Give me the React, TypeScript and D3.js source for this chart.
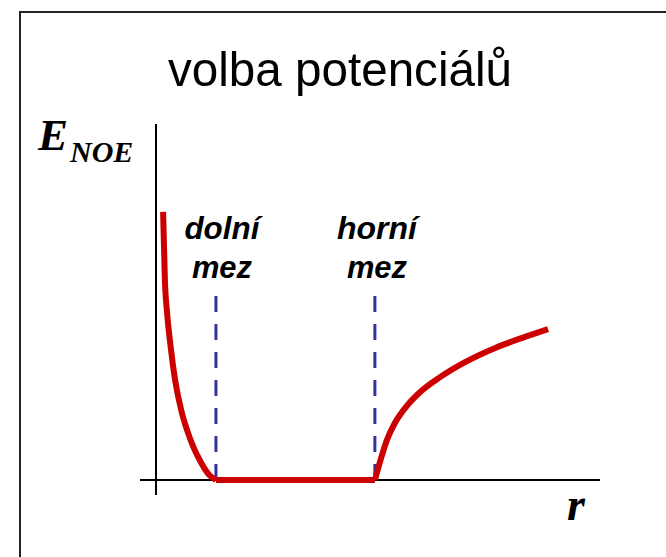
import React from "react";
import * as d3 from "d3";

const W = 666;
const H = 557;

// Potential: r (distance) vs E_NOE (energy), arbitrary units
const leftWall: [number, number][] = [
  [0.16, 7.53], [0.2, 5.62], [0.25, 4.69], [0.33, 3.74], [0.43, 2.81],
  [0.58, 1.9], [0.7, 1.4], [0.84, 0.93], [1.02, 0.48], [1.2, 0.14], [1.35, 0],
];
const flatWell: [number, number][] = [[1.35, 0], [4.93, 0]];
const rightWall: [number, number][] = [
  [4.93, 0], [5.05, 0.53], [5.2, 1.12], [5.38, 1.6], [5.61, 2.02], [5.95, 2.47],
  [6.4, 2.89], [6.96, 3.31], [7.64, 3.71], [8.31, 4.02], [8.83, 4.24],
];
const bounds = [1.35, 4.93];
const boundLabels = [["dolní", "mez"], ["horní", "mez"]];
const title = "volba potenciálů";

export default function App() {
  const x = d3.scaleLinear().domain([0, 10]).range([156, 600]);
  const y = d3.scaleLinear().domain([0, 10]).range([480, 124]);
  const curveL = d3.line<[number, number]>().x(d => x(d[0])).y(d => y(d[1])).curve(d3.curveMonotoneX);
  const curveR = d3.line<[number, number]>().x(d => x(d[0])).y(d => y(d[1])).curve(d3.curveMonotoneX);
  const lin = d3.line<[number, number]>().x(d => x(d[0])).y(d => y(d[1]));
  const sans = "'Liberation Sans', Arial, Helvetica, sans-serif";
  const serif = "'Liberation Serif', 'Times New Roman', serif";
  return (
    <svg width={W} height={H} style={{ position: "absolute", left: 0, top: 0, background: "#fff" }}>
      <rect x={0} y={0} width={W} height={H} fill="#fff" />
      <path d={`M20,${H} V12 H${W}`} fill="none" stroke="#222" strokeWidth={2} />
      <text x={340} y={86} textAnchor="middle" fontFamily={sans} fontSize={49} fill="#000"
        textLength={344} lengthAdjust="spacingAndGlyphs">{title}</text>
      {/* axes */}
      <line x1={x(0)} x2={x(0)} y1={y(10)} y2={495} stroke="#000" strokeWidth={2} />
      <line x1={140} x2={x(10)} y1={y(0)} y2={y(0)} stroke="#000" strokeWidth={2} />
      <text x={38} y={150} fontFamily={serif} fontWeight="bold" fontStyle="italic" fontSize={45} fill="#000">E</text>
      <text x={70} y={162} fontFamily={serif} fontWeight="bold" fontStyle="italic" fontSize={30} fill="#000">NOE</text>
      <text x={567} y={520} fontFamily={serif} fontWeight="bold" fontStyle="italic" fontSize={46} fill="#000">r</text>
      {/* bounds */}
      {bounds.map((b, i) => (
        <g key={i}>
          <line x1={x(b)} x2={x(b)} y1={296} y2={y(0)} stroke="#333399" strokeWidth={3} strokeDasharray="16,12" />
          <text x={x(b) + (i === 0 ? 6 : 2)} y={239} textAnchor="middle" fontFamily={sans} fontWeight="bold" fontStyle="italic" fontSize={31} fill="#000"
            textLength={i === 0 ? 75 : 80} lengthAdjust="spacingAndGlyphs">{boundLabels[i][0]}</text>
          <text x={x(b) + (i === 0 ? 6 : 2)} y={278} textAnchor="middle" fontFamily={sans} fontWeight="bold" fontStyle="italic" fontSize={31} fill="#000"
            textLength={60} lengthAdjust="spacingAndGlyphs">{boundLabels[i][1]}</text>
        </g>
      ))}
      {/* potential */}
      <path d={curveL(leftWall) || ""} fill="none" stroke="#cc0000" strokeWidth={6} strokeLinejoin="round" />
      <path d={lin(flatWell) || ""} fill="none" stroke="#cc0000" strokeWidth={6} />
      <path d={curveR(rightWall) || ""} fill="none" stroke="#cc0000" strokeWidth={6} strokeLinejoin="round" />
    </svg>
  );
}
